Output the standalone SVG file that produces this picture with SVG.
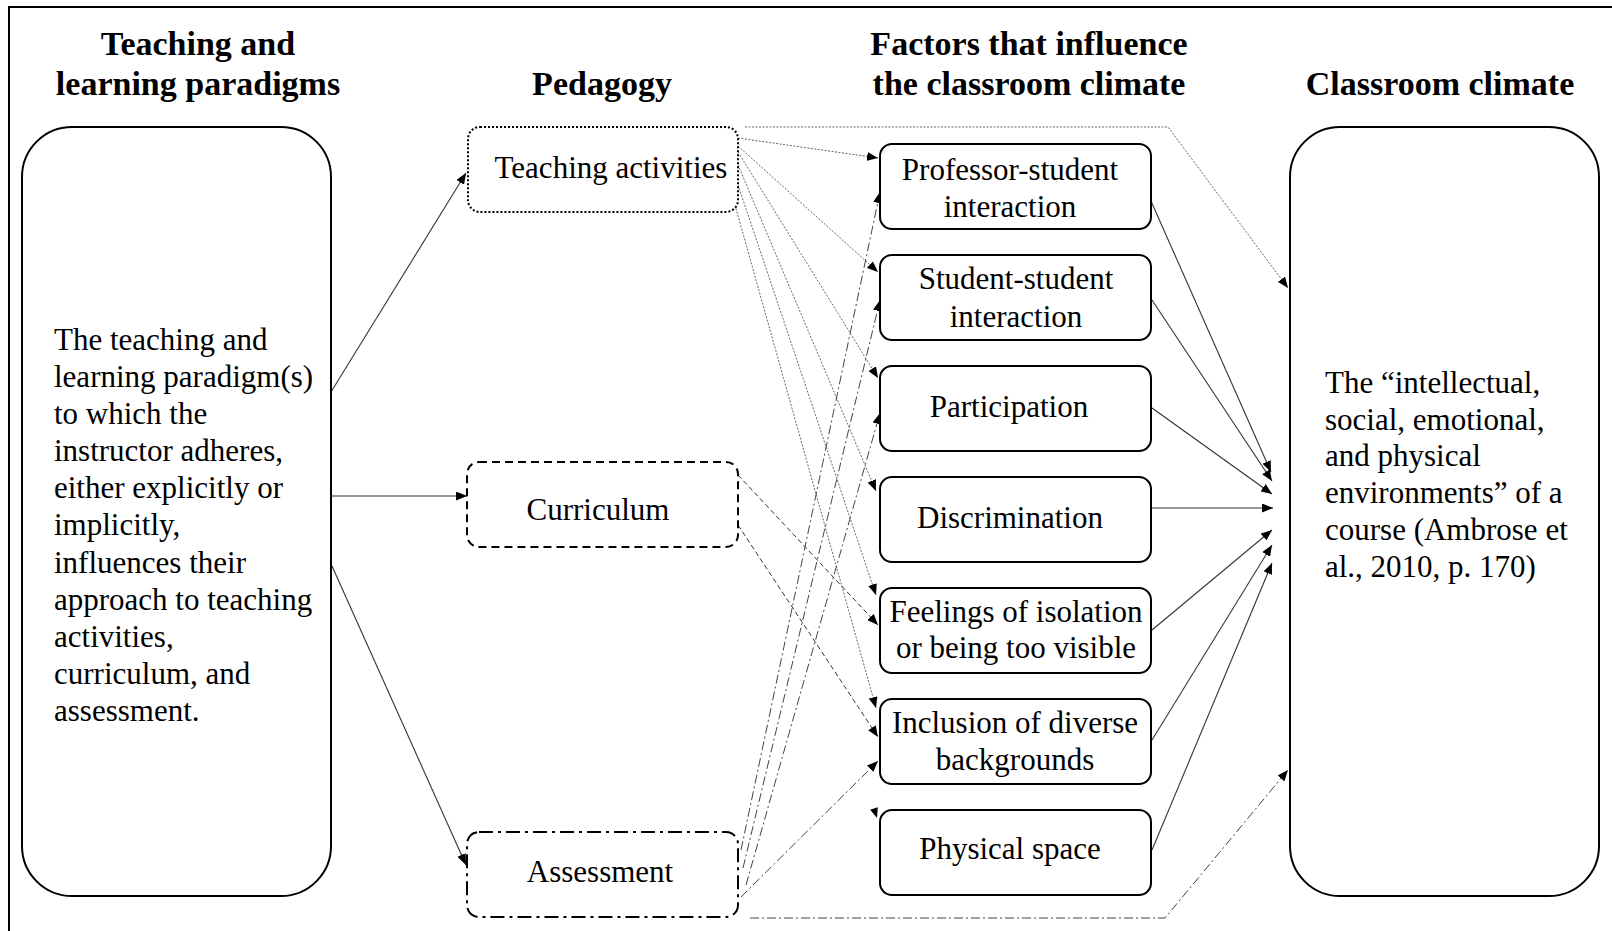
<svg xmlns="http://www.w3.org/2000/svg" width="1612" height="931" viewBox="0 0 1612 931">
  <style>
    .hdr { font-family: "Liberation Serif", "Times New Roman", serif; font-weight: bold; font-size: 34px; fill: #000; text-anchor: middle; }
    .txt { font-family: "Liberation Serif", "Times New Roman", serif; font-size: 31px; fill: #000; }
    .mid { text-anchor: middle; }
    .big { fill: #fff; stroke: #000; stroke-width: 2; }
    .factor { fill: #fff; stroke: #000; stroke-width: 2; }
    .ped-dot { fill: #fff; stroke: #000; stroke-width: 2; stroke-dasharray: 2 2; }
    .ped-dash { fill: #fff; stroke: #000; stroke-width: 2; stroke-dasharray: 8 5; }
    .ped-dashdot { fill: #fff; stroke: #000; stroke-width: 2; stroke-dasharray: 14 5 3 5; }
    .c-solid { fill: none; stroke: #333; stroke-width: 1.1; marker-end: url(#arrow); }
    .c-dot { fill: none; stroke: #666; stroke-width: 1; stroke-dasharray: 2 1.5; marker-end: url(#arrow); }
    .c-dash { fill: none; stroke: #333; stroke-width: 1; stroke-dasharray: 5 3; marker-end: url(#arrow); }
    .c-dashdot { fill: none; stroke: #444; stroke-width: 1; stroke-dasharray: 9 3 2 3; marker-end: url(#arrow); }
  </style>
  <defs>
    <marker id="arrow" markerUnits="userSpaceOnUse" markerWidth="11" markerHeight="9" refX="11" refY="4.5" orient="auto">
      <path d="M0,0 L11,4.5 L0,9 z" fill="#000"/>
    </marker>
  </defs>

  <rect width="1612" height="931" fill="#fff"/>
  <!-- outer frame -->
  <rect x="9" y="7" width="1610" height="935" fill="none" stroke="#000" stroke-width="2"/>

  <!-- column headings -->
  <g id="headings">
    <text class="hdr" x="198" y="55">Teaching and</text>
    <text class="hdr" x="198" y="95">learning paradigms</text>
    <text class="hdr" x="602" y="95">Pedagogy</text>
    <text class="hdr" x="1029" y="55">Factors that influence</text>
    <text class="hdr" x="1029" y="95">the classroom climate</text>
    <text class="hdr" x="1440" y="95">Classroom climate</text>
  </g>

  <!-- connectors -->
  <g id="connectors">
    <!-- paradigm to pedagogy -->
    <path class="c-solid" d="M331,392 L466,173"/>
    <path class="c-solid" d="M329,496 L467,496"/>
    <path class="c-solid" d="M332,566 L466,865"/>

    <!-- teaching activities to factors -->
    <path class="c-dot" d="M738,138 L878,158"/>
    <path class="c-dot" d="M738,146 L878,272"/>
    <path class="c-dot" d="M738,152 L878,378"/>
    <path class="c-dot" d="M738,165 L876,491"/>
    <path class="c-dot" d="M738,185 L876,595"/>
    <path class="c-dot" d="M735,205 L876,708"/>
    <path class="c-dot" d="M745,127 L1168,127 L1288,288"/>
    <polygon points="877,818 877.8,807.3 870.2,809.7" fill="#000"/>

    <!-- curriculum to factors -->
    <path class="c-dash" d="M738,475 L878,625"/>
    <path class="c-dash" d="M738,525 L878,737"/>

    <!-- assessment to factors -->
    <path class="c-dashdot" d="M741,850 L880,192"/>
    <path class="c-dashdot" d="M743,868 L880,300"/>
    <path class="c-dashdot" d="M746,885 L880,413"/>
    <path class="c-dashdot" d="M741,897 L878,761"/>
    <path class="c-dashdot" d="M750,918 L1165,918 L1288,770"/>

    <!-- factors to classroom climate -->
    <path class="c-solid" d="M1147,192 L1271,472"/>
    <path class="c-solid" d="M1152,300 L1272,481"/>
    <path class="c-solid" d="M1152,408 L1272,494"/>
    <path class="c-solid" d="M1152,508 L1273,508"/>
    <path class="c-solid" d="M1152,630 L1272,530"/>
    <path class="c-solid" d="M1152,740 L1272,545"/>
    <path class="c-solid" d="M1152,850 L1272,563"/>
  </g>

  <!-- paradigm box -->
  <g id="paradigm">
    <rect class="big" x="22" y="127" width="309" height="769" rx="50" ry="50"/>
    <text class="txt" x="54">
      <tspan x="54" y="350">The teaching and</tspan>
      <tspan x="54" y="387">learning paradigm(s)</tspan>
      <tspan x="54" y="424">to which the</tspan>
      <tspan x="54" y="461">instructor adheres,</tspan>
      <tspan x="54" y="498">either explicitly or</tspan>
      <tspan x="54" y="535">implicitly,</tspan>
      <tspan x="54" y="573">influences their</tspan>
      <tspan x="54" y="610">approach to teaching</tspan>
      <tspan x="54" y="647">activities,</tspan>
      <tspan x="54" y="684">curriculum, and</tspan>
      <tspan x="54" y="721">assessment.</tspan>
    </text>
  </g>

  <!-- pedagogy boxes -->
  <g id="teaching-activities">
    <rect class="ped-dot" x="468" y="127" width="270" height="85" rx="12" ry="12"/>
    <text class="txt mid" x="611" y="178">Teaching activities</text>
  </g>
  <g id="curriculum">
    <rect class="ped-dash" x="467" y="462" width="271" height="85" rx="12" ry="12"/>
    <text class="txt mid" x="598" y="520">Curriculum</text>
  </g>
  <g id="assessment">
    <rect class="ped-dashdot" x="467" y="832" width="271" height="85" rx="12" ry="12"/>
    <text class="txt mid" x="600" y="882">Assessment</text>
  </g>

  <!-- factor boxes -->
  <g id="professor-student">
    <rect class="factor" x="880" y="144" width="271" height="85" rx="12" ry="12"/>
    <text class="txt mid" x="1010" y="180">Professor-student</text>
    <text class="txt mid" x="1010" y="217">interaction</text>
  </g>
  <g id="student-student">
    <rect class="factor" x="880" y="255" width="271" height="85" rx="12" ry="12"/>
    <text class="txt mid" x="1016" y="289">Student-student</text>
    <text class="txt mid" x="1016" y="327">interaction</text>
  </g>
  <g id="participation">
    <rect class="factor" x="880" y="366" width="271" height="85" rx="12" ry="12"/>
    <text class="txt mid" x="1009" y="417">Participation</text>
  </g>
  <g id="discrimination">
    <rect class="factor" x="880" y="477" width="271" height="85" rx="12" ry="12"/>
    <text class="txt mid" x="1010" y="528">Discrimination</text>
  </g>
  <g id="isolation">
    <rect class="factor" x="880" y="588" width="271" height="85" rx="12" ry="12"/>
    <text class="txt mid" x="1016" y="622">Feelings of isolation</text>
    <text class="txt mid" x="1016" y="658">or being too visible</text>
  </g>
  <g id="inclusion">
    <rect class="factor" x="880" y="699" width="271" height="85" rx="12" ry="12"/>
    <text class="txt mid" x="1015" y="733">Inclusion of diverse</text>
    <text class="txt mid" x="1015" y="770">backgrounds</text>
  </g>
  <g id="physical-space">
    <rect class="factor" x="880" y="810" width="271" height="85" rx="12" ry="12"/>
    <text class="txt mid" x="1010" y="859">Physical space</text>
  </g>

  <!-- classroom climate box -->
  <g id="classroom-climate">
    <rect class="big" x="1290" y="127" width="309" height="769" rx="50" ry="50"/>
    <text class="txt">
      <tspan x="1325" y="393">The “intellectual,</tspan>
      <tspan x="1325" y="430">social, emotional,</tspan>
      <tspan x="1325" y="466">and physical</tspan>
      <tspan x="1325" y="503">environments” of a</tspan>
      <tspan x="1325" y="540">course (Ambrose et</tspan>
      <tspan x="1325" y="577">al., 2010, p. 170)</tspan>
    </text>
  </g>
</svg>
